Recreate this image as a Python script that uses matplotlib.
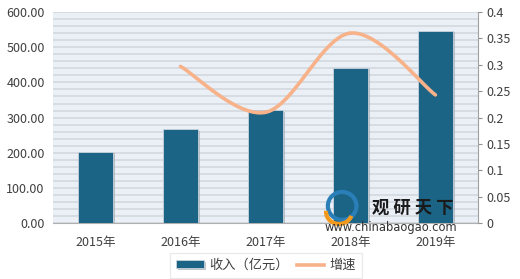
import numpy as np
import matplotlib
matplotlib.use("Agg")
import matplotlib.pyplot as plt
import matplotlib.patheffects as pe
from matplotlib.patches import Ellipse, Arc
from matplotlib.ticker import MultipleLocator, FormatStrFormatter

plt.rcParams['font.family'] = ['Noto Sans CJK SC', 'DejaVu Sans']

years = ['2015年', '2016年', '2017年', '2018年', '2019年']
revenue = [202, 267, 321, 441, 546]
growth_years = [1, 2, 3, 4]
growth = [0.297, 0.21, 0.36, 0.243]

BAR = '#1b6486'
LINE = '#f7b28a'
TXT = '#404040'


def catmull_rom(xs, ys, n=40):
    # smooth the line the way the spreadsheet does
    px = [xs[0]] + list(xs) + [xs[-1]]
    py = [ys[0]] + list(ys) + [ys[-1]]
    outx, outy = [], []
    for i in range(1, len(px) - 2):
        t = np.linspace(0, 1, n)
        for p, out in ((px, outx), (py, outy)):
            p0, p1, p2, p3 = p[i - 1], p[i], p[i + 1], p[i + 2]
            out.extend(0.5 * (2 * p1 + (-p0 + p2) * t + (2 * p0 - 5 * p1 + 4 * p2 - p3) * t ** 2
                              + (-p0 + 3 * p1 - 3 * p2 + p3) * t ** 3))
    return outx, outy


fig = plt.figure(figsize=(5.2, 2.79), dpi=100)
ax = fig.add_axes([0.102, 0.2, 0.817, 0.757])
ax.set_facecolor('#eaf0f6')

x = np.arange(len(years))
bars = ax.bar(x, revenue, width=0.42, color=BAR, edgecolor='#c9d3dc', linewidth=0.6,
              label='收入（亿元）', zorder=3)
for b in bars:
    b.set_path_effects([pe.SimplePatchShadow(offset=(1.5, -1), shadow_rgbFace='#9aa3ab', alpha=0.6),
                        pe.Normal()])

ax.set_xlim(-0.5, 4.5)
ax.set_ylim(0, 600)
ax.yaxis.set_major_locator(MultipleLocator(100))
ax.yaxis.set_minor_locator(MultipleLocator(20))
ax.yaxis.set_major_formatter(FormatStrFormatter('%.2f'))
ax.grid(axis='y', which='both', color='#d2d8df', linewidth=1.2, zorder=0)
ax.set_xticks(x)
ax.set_xticklabels(years)
ax.tick_params(axis='both', which='both', length=0, colors=TXT, labelsize=9)
ax.tick_params(axis='y', pad=6)
ax.tick_params(axis='x', pad=9)
for s in ['top', 'right', 'left']:
    ax.spines[s].set_visible(False)
ax.spines['bottom'].set_color('#b0b0b0')

ax2 = ax.twinx()
sx, sy = catmull_rom(growth_years, growth)
ax2.plot(sx, sy, color=LINE, linewidth=2.6, solid_capstyle='round', zorder=4)
ax2.plot([], [], color=LINE, linewidth=2.6, label='增速')
ax2.set_ylim(0, 0.4)
ax2.set_yticks([0, 0.05, 0.1, 0.15, 0.2, 0.25, 0.3, 0.35, 0.4])
ax2.set_yticklabels(['0', '0.05', '0.1', '0.15', '0.2', '0.25', '0.3', '0.35', '0.4'])
ax2.tick_params(axis='y', length=3, color='#909090', labelcolor=TXT, labelsize=9, pad=3)
for s in ['top', 'left', 'bottom']:
    ax2.spines[s].set_visible(False)
ax2.spines['right'].set_color('#a0a0a0')

# watermark
fig.text(0.715, 0.254, '观 研 天 下', fontsize=12.5, fontweight='bold', color='#1a1a1a',
         ha='left', va='center', zorder=10)
fig.text(0.625, 0.186, 'www.chinabaogao.com', fontsize=8.3, color='#333333',
         family='DejaVu Sans', ha='left', va='center', zorder=10)
fig.patches.append(Ellipse((0.658, 0.262), 0.055, 0.1, transform=fig.transFigure,
                           facecolor='none', edgecolor='#2a7fb8', linewidth=3, zorder=10))
fig.patches.append(Arc((0.652, 0.24), 0.05, 0.085, theta1=170, theta2=330,
                       transform=fig.transFigure, edgecolor='#f39a1e', linewidth=3, zorder=10))

h1, l1 = ax.get_legend_handles_labels()
h2, l2 = ax2.get_legend_handles_labels()
leg = fig.legend(h1 + h2, l1 + l2, loc='lower left', bbox_to_anchor=(0.315, -0.02), ncol=2,
                 fontsize=9.5, frameon=True, fancybox=False, shadow=False, handlelength=2.1,
                 handleheight=0.55, columnspacing=0.6, handletextpad=0.4, borderpad=0.45,
                 labelcolor=TXT)
leg.get_frame().set_edgecolor('#e4e4e4')
leg.get_frame().set_linewidth(0.8)

fig.savefig('out.png', dpi=100)
